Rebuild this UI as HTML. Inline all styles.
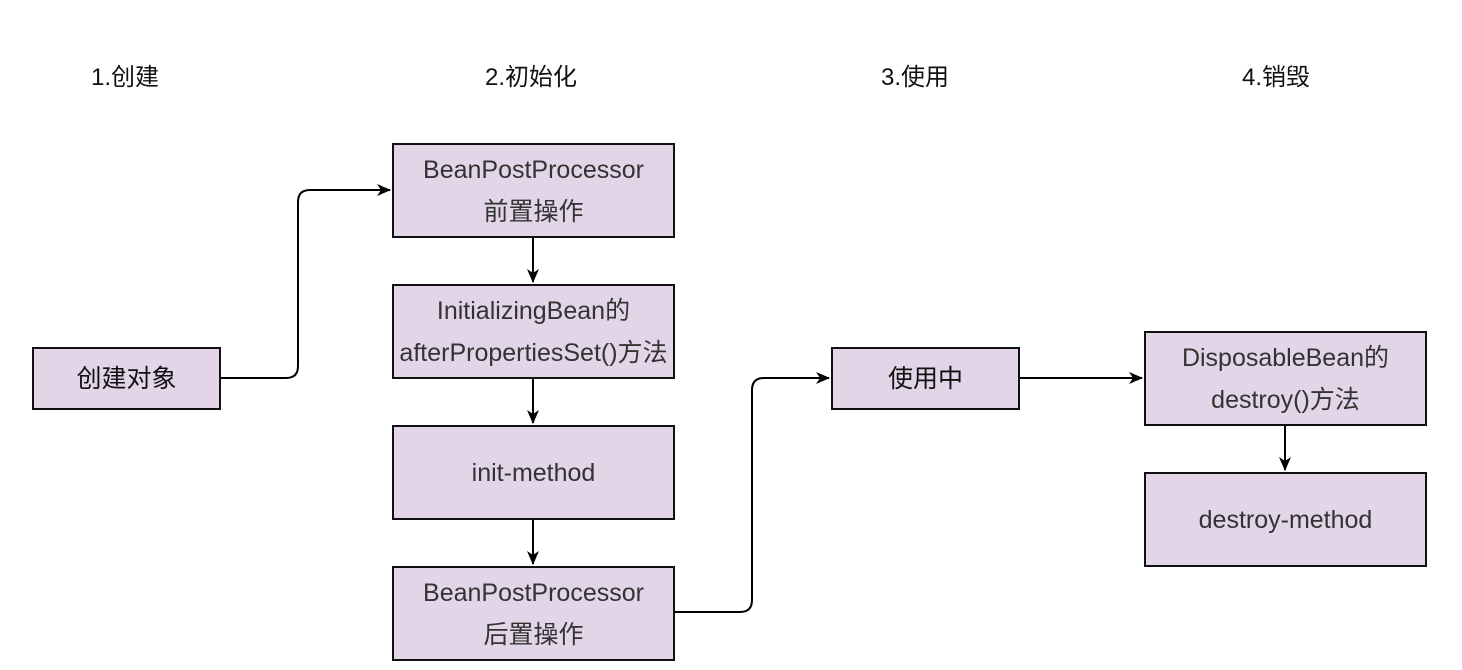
<!DOCTYPE html>
<html><head><meta charset="utf-8"><style>
body{margin:0;width:1462px;height:670px;background:#fff;overflow:hidden;position:relative;font-family:"Liberation Sans","Noto Sans CJK SC",sans-serif}
.h{position:absolute;top:57px;font-size:24px;color:#111;transform:translateX(-50%);white-space:nowrap}
.b{position:absolute;box-sizing:border-box;background:#e1d5e7;border:2px solid #111;display:flex;align-items:center;justify-content:center;text-align:center;font-size:25px;line-height:42px;color:#333;white-space:nowrap}
svg{position:absolute;left:0;top:0}
</style></head><body>
<div class="h" style="left:125px">1.创建</div>
<div class="h" style="left:531px">2.初始化</div>
<div class="h" style="left:915px">3.使用</div>
<div class="h" style="left:1276px">4.销毁</div>
<svg width="1462" height="670">
<defs><marker id="a" markerWidth="14" markerHeight="14" refX="13" refY="7" orient="auto" markerUnits="userSpaceOnUse"><path d="M0,1 L14,7 L0,13 L4,7 z" fill="#000"/></marker></defs>
<g fill="none" stroke="#000" stroke-width="2">
<path d="M220,378 H286 Q298,378 298,366 V202 Q298,190 310,190 H390" marker-end="url(#a)"/>
<path d="M674,612 H740 Q752,612 752,600 V390 Q752,378 764,378 H829" marker-end="url(#a)"/>
<path d="M1019,378 H1142" marker-end="url(#a)"/>
<path d="M533,237 V282" marker-end="url(#a)"/>
<path d="M533,378 V423" marker-end="url(#a)"/>
<path d="M533,519 V564" marker-end="url(#a)"/>
<path d="M1285,425 V470" marker-end="url(#a)"/>
</g></svg>
<div class="b" style="left:32px;top:347px;width:189px;height:63px;color:#111">创建对象</div>
<div class="b" style="left:392px;top:143px;width:283px;height:95px">BeanPostProcessor<br>前置操作</div>
<div class="b" style="left:392px;top:284px;width:283px;height:95px">InitializingBean的<br>afterPropertiesSet()方法</div>
<div class="b" style="left:392px;top:425px;width:283px;height:95px">init-method</div>
<div class="b" style="left:392px;top:566px;width:283px;height:95px">BeanPostProcessor<br>后置操作</div>
<div class="b" style="left:831px;top:347px;width:189px;height:63px;color:#111">使用中</div>
<div class="b" style="left:1144px;top:331px;width:283px;height:95px">DisposableBean的<br>destroy()方法</div>
<div class="b" style="left:1144px;top:472px;width:283px;height:95px">destroy-method</div>
</body></html>
